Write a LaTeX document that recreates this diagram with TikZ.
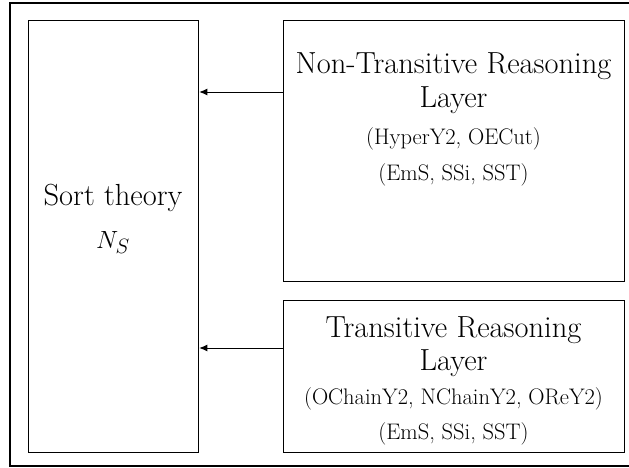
\documentclass[tikz,border=0pt]{standalone}
\usetikzlibrary{arrows.meta,positioning}
\tikzset{
  box/.style={draw,line width=1.3pt,inner sep=0pt,anchor=north west},
  bigtext/.style={anchor=base,inner sep=0pt,font=\fontsize{30.5}{36}\selectfont},
  smalltext/.style={anchor=base,inner sep=0pt,font=\fontsize{22.5}{27}\selectfont},
  arrow/.style={-{Latex[length=8pt,width=7pt]},line width=0.9pt}
}
\begin{document}
\begin{tikzpicture}[x=1pt,y=-1pt]
  \useasboundingbox (0,0) rectangle (629,468);
  \draw[line width=1.3pt] (10,3) rectangle (645,466);

  % boxes
  \node[box,minimum width=170pt,minimum height=432pt] (sort) at (28,20) {};
  \node[box,minimum width=341pt,minimum height=261pt] (ntr) at (283,20) {};
  \node[box,minimum width=341pt,minimum height=152pt] (tr) at (283,300) {};

  % texts
  \node[bigtext] (sorttitle) at (113,205) {Sort theory};
  \node[bigtext] (sortname) at (113,248) {$N_S$};

  \node[bigtext] (ntrtitle) at (453.5,74) {Non-Transitive Reasoning};
  \node[bigtext] (ntrlayer) at (453.5,108) {Layer};
  \node[smalltext] (ntrrules) at (453.5,145) {(HyperY2, OECut)};
  \node[smalltext] (ntrext) at (453.5,180) {(EmS, SSi, SST)};

  \node[bigtext] (trtitle) at (453.5,337) {Transitive Reasoning};
  \node[bigtext] (trlayer) at (453.5,370) {Layer};
  \node[smalltext] (trrules) at (453.5,404) {(OChainY2, NChainY2, OReY2)};
  \node[smalltext] (trext) at (453.5,439) {(EmS, SSi, SST)};

  % arrows
  \draw[arrow] ([yshift=-72pt]ntr.north west) -- ([yshift=-72pt]ntr.north west -| sort.east);
  \draw[arrow] ([yshift=-48pt]tr.north west) -- ([yshift=-48pt]tr.north west -| sort.east);
\end{tikzpicture}
\end{document}
